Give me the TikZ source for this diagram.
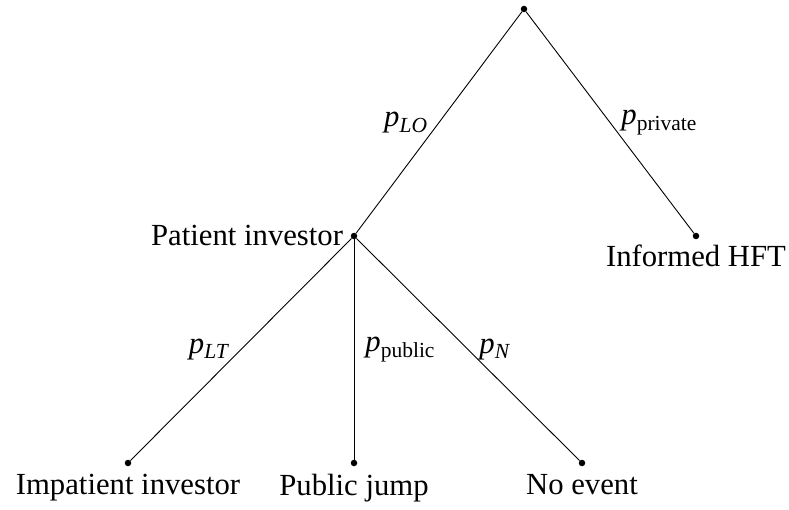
\documentclass[tikz,border=0pt]{standalone}
\usepackage{fontspec}
\setmainfont{Liberation Serif}
\usetikzlibrary{positioning}

\tikzset{
    dot/.style={circle, fill=black, inner sep=0pt, minimum size=6.5pt},
    branch/.style={line width=0.9pt},
    prob/.style={midway, inner sep=11pt}
}

\begin{document}
\begin{tikzpicture}[x=1pt, y=-1pt, font=\fontsize{30.7pt}{37pt}\selectfont]

    % ==================== canvas ====================
    \useasboundingbox (0,0) rectangle (789,510);

    % ==================== tree nodes ====================
    \node[dot] (root) at (524,9) {};
    \node[dot] (pat) at (354,236) {};
    \node[dot] (hft) at (696,236) {};
    \node[dot] (imp) at (128,463) {};
    \node[dot] (pub) at (354,463) {};
    \node[dot] (noe) at (582,463) {};

    % ==================== outcome labels ====================
    \node[left=4pt of pat, yshift=1pt] (patlbl) {Patient investor};
    \node[below=2pt of hft] (hftlbl) {Informed HFT};
    \node[below=4.5pt of imp] (implbl) {Impatient investor};
    \node[below=4.5pt of pub] (publbl) {Public jump};
    \node[below=4.5pt of noe] (noelbl) {No event};

    % ==================== first stage ====================
    \draw[branch] (root) -- (pat) node[prob, left] {\textit{p}\textsubscript{\textit{LO}}};
    \draw[branch] (root) -- (hft) node[prob, right] {\textit{p}\textsubscript{private}};

    % ==================== second stage ====================
    \draw[branch] (pat) -- (imp) node[prob, left] {\textit{p}\textsubscript{\textit{LT}}};
    \draw[branch] (pat) -- (pub) node[prob, right] {\textit{p}\textsubscript{public}};
    \draw[branch] (pat) -- (noe) node[prob, right] {\textit{p}\textsubscript{\textit{N}}};

\end{tikzpicture}
\end{document}
